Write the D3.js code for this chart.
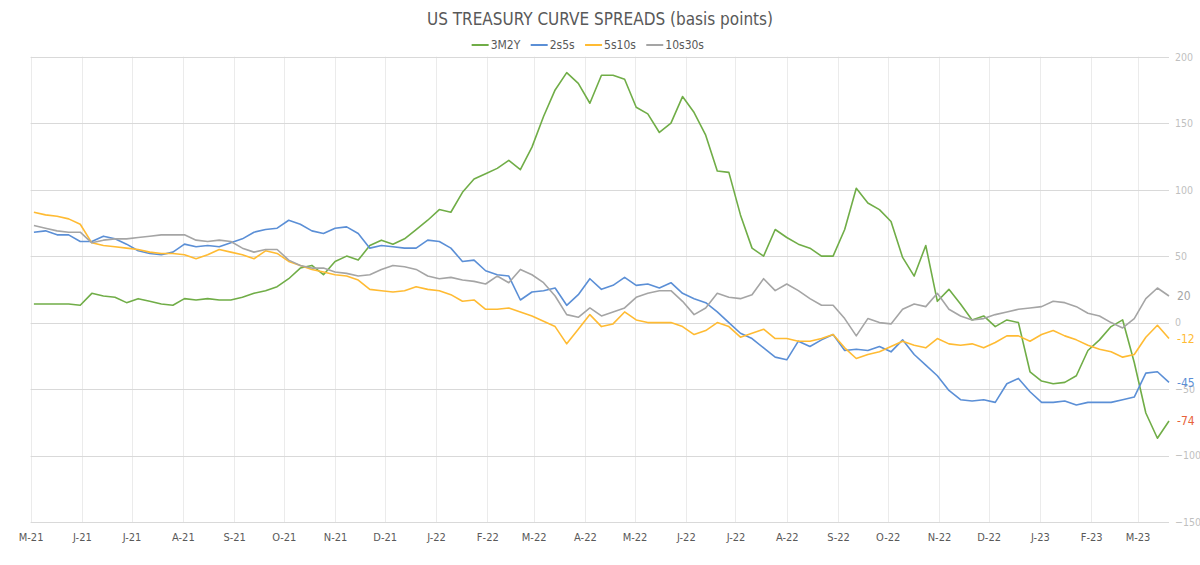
<!DOCTYPE html>
<html>
<head>
<meta charset="utf-8">
<script src="https://cdn.jsdelivr.net/npm/d3@7"></script>
<style>
  body { margin: 0; background: #fff; }
  text { font-family: "DejaVu Sans", sans-serif; font-stretch: condensed; }
</style>
</head>
<body>
<div id="chart"></div>
<script>
// weekly readings, first one on Monday 3 May 2021
const startDate = new Date(2021, 4, 3);
const stepDays = 7;

const spread3m2y = [
  14, 14, 14, 14, 13, 22, 20, 19, 15, 18,
  16, 14, 13, 18, 17, 18, 17, 17, 19, 22,
  24, 27, 33, 41, 43, 36, 46, 50, 47, 58,
  62, 59, 63, 70, 77, 85, 83, 98, 108, 112,
  116, 122, 115, 132, 155, 175, 188, 180, 165, 186,
  186, 183, 162, 157, 143, 150, 170, 158, 141, 114,
  113, 81, 56, 50, 70, 64, 59, 56, 50, 50,
  70, 101, 90, 85, 76, 49, 35, 58, 16, 25,
  14, 2, 5, -3, 2, 0, -37, -44, -46, -45,
  -40, -21, -13, -3, 2, -30, -68, -87, -74
];
const spread2s5s = [
  68, 69, 66, 66, 61, 61, 65, 63, 59, 54,
  52, 51, 53, 59, 57, 58, 57, 60, 63, 68,
  70, 71, 77, 74, 69, 67, 71, 72, 67, 56,
  58, 57, 56, 56, 62, 61, 56, 46, 47, 39,
  36, 35, 17, 23, 24, 26, 13, 21, 33, 25,
  28, 34, 28, 29, 26, 30, 22, 18, 15, 8,
  0, -8, -12, -19, -26, -28, -14, -18, -13, -9,
  -21, -20, -21, -18, -22, -13, -24, -32, -40, -51,
  -58, -59, -58, -60, -46, -42, -52, -60, -60, -59,
  -62, -60, -60, -60, -58, -56, -38, -37, -45
];
const spread5s10s = [
  83, 81, 80, 78, 74, 60, 58, 57, 56, 55,
  53, 52, 52, 51, 48, 51, 55, 53, 51, 48,
  54, 52, 46, 43, 40, 38, 36, 35, 32, 25,
  24, 23, 24, 27, 25, 24, 21, 16, 17, 10,
  10, 11, 8, 5, 1, -3, -16, -5, 6, -3,
  -1, 8, 2, 0, 0, 0, -3, -9, -6, 0,
  -3, -11, -8, -5, -12, -12, -14, -14, -12, -9,
  -19, -27, -24, -22, -18, -14, -17, -19, -12, -16,
  -17, -16, -19, -15, -10, -10, -14, -9, -6, -10,
  -13, -17, -20, -22, -26, -24, -11, -2, -12
];
const spread10s30s = [
  73, 71, 69, 68, 68, 60, 62, 63, 63, 64,
  65, 66, 66, 66, 62, 61, 62, 61, 56, 53,
  55, 55, 47, 43, 41, 41, 38, 37, 35, 36,
  40, 43, 42, 40, 35, 33, 34, 32, 31, 29,
  35, 30, 40, 36, 30, 20, 6, 4, 11, 5,
  8, 11, 19, 22, 24, 24, 16, 6, 11, 22,
  19, 18, 21, 33, 24, 29, 24, 18, 13, 13,
  3, -10, 3, 0, -1, 10, 14, 12, 22, 10,
  5, 2, 3, 6, 8, 10, 11, 12, 16, 15,
  12, 7, 5, 0, -4, 3, 18, 26, 20
];

const seriesNames = ["3M2Y", "2s5s", "5s10s", "10s30s"];
const seriesColors = ["#70ad47", "#5b8fd6", "#ffbb33", "#a5a5a5"];
const endLabelColors = ["#e8623a", "#5b8fd6", "#ffbb33", "#a5a5a5"];
const yTicks = [-150, -100, -50, 0, 50, 100, 150, 200];

const w = 1200;
const h = 565;
const plotLeft = 30.6;
const plotRight = 1169;
const plotTop = 56.7;
const plotBottom = 522;

const dates = spread3m2y.map(function (d, i) {
  return d3.timeDay.offset(startDate, i * stepDays);
});
const seriesValues = [spread3m2y, spread2s5s, spread5s10s, spread10s30s];
const series = seriesNames.map(function (name, k) {
  return {
    name: name,
    color: seriesColors[k],
    labelColor: endLabelColors[k],
    values: seriesValues[k].map(function (v, i) {
      return { date: dates[i], value: v };
    }),
  };
});

const x = d3
  .scaleTime()
  .domain([new Date(2021, 4, 1), new Date(2023, 2, 20)])
  .range([plotLeft, plotRight]);

const y = d3.scaleLinear().domain([-150, 200]).range([plotBottom, plotTop]);

const svg = d3
  .select("#chart")
  .append("svg")
  .attr("width", w)
  .attr("height", h);

svg.append("rect").attr("width", w).attr("height", h).attr("fill", "#fff");

// vertical gridlines on month starts
const months = d3.timeMonth.range(new Date(2021, 4, 1), new Date(2023, 2, 2));
svg
  .append("g")
  .selectAll("line")
  .data(months)
  .enter()
  .append("line")
  .attr("x1", function (d) { return Math.round(x(d)) + 0.5; })
  .attr("x2", function (d) { return Math.round(x(d)) + 0.5; })
  .attr("y1", plotTop)
  .attr("y2", plotBottom)
  .attr("stroke", "#ebebeb");

// horizontal gridlines
svg
  .append("g")
  .selectAll("line")
  .data(yTicks)
  .enter()
  .append("line")
  .attr("x1", plotLeft)
  .attr("x2", plotRight)
  .attr("y1", function (d) { return Math.round(y(d)) + 0.5; })
  .attr("y2", function (d) { return Math.round(y(d)) + 0.5; })
  .attr("stroke", "#d9d9d9");

// y axis on the right
const yAxis = d3
  .axisRight(y)
  .tickValues(yTicks)
  .tickSize(0)
  .tickPadding(6);
const gy = svg
  .append("g")
  .attr("transform", `translate(${plotRight},0)`)
  .call(yAxis);
gy.select(".domain").remove();
gy.selectAll("text")
  .attr("fill", "#bfbfbf")
  .style("font-size", "10.5px")
  .style("font-family", null);

// x axis
const monthFormat = d3.timeFormat("%b");
const yearFormat = d3.timeFormat("%y");
const xAxis = d3
  .axisBottom(x)
  .tickValues(months)
  .tickSize(0)
  .tickPadding(11)
  .tickFormat(function (d) {
    return monthFormat(d).charAt(0) + "-" + yearFormat(d);
  });
const gx = svg
  .append("g")
  .attr("transform", `translate(0,${plotBottom})`)
  .call(xAxis);
gx.select(".domain").remove();
gx.selectAll("text")
  .attr("fill", "#595959")
  .style("font-size", "11px")
  .style("font-family", null);
svg.selectAll(".tick text").attr("font-family", null);

// lines
const line = d3
  .line()
  .x(function (d) { return x(d.date); })
  .y(function (d) { return y(d.value); });

svg
  .append("g")
  .selectAll("path")
  .data(series)
  .enter()
  .append("path")
  .attr("d", function (d) { return line(d.values); })
  .attr("fill", "none")
  .attr("stroke", function (d) { return d.color; })
  .attr("stroke-width", 1.6)
  .attr("stroke-linejoin", "round");

// end value labels
svg
  .append("g")
  .selectAll("text")
  .data(series)
  .enter()
  .append("text")
  .attr("x", plotRight + 8)
  .attr("y", function (d) { return y(d.values[d.values.length - 1].value); })
  .attr("dy", "0.35em")
  .attr("fill", function (d) { return d.labelColor; })
  .style("font-size", "12px")
  .text(function (d) { return d.values[d.values.length - 1].value; });

// title
svg
  .append("text")
  .attr("x", 600)
  .attr("y", 25)
  .attr("text-anchor", "middle")
  .attr("fill", "#595959")
  .style("font-size", "17px")
  .text("US TREASURY CURVE SPREADS (basis points)");

// legend
const legend = svg.append("g");
const items = legend
  .selectAll("g")
  .data(series)
  .enter()
  .append("g");
items
  .append("line")
  .attr("x1", 0)
  .attr("x2", 17)
  .attr("y1", 0)
  .attr("y2", 0)
  .attr("stroke", function (d) { return d.color; })
  .attr("stroke-width", 2);
items
  .append("text")
  .attr("x", 19)
  .attr("dy", "0.35em")
  .attr("fill", "#595959")
  .style("font-size", "12px")
  .text(function (d) { return d.name; });

const widths = [];
items.each(function () {
  widths.push(this.getBBox().width);
});
const gap = 10;
const total = d3.sum(widths) + gap * (widths.length - 1);
let cursor = 588 - total / 2;
items.attr("transform", function (d, i) {
  const t = `translate(${cursor},45)`;
  cursor += widths[i] + gap;
  return t;
});
</script>
</body>
</html>
